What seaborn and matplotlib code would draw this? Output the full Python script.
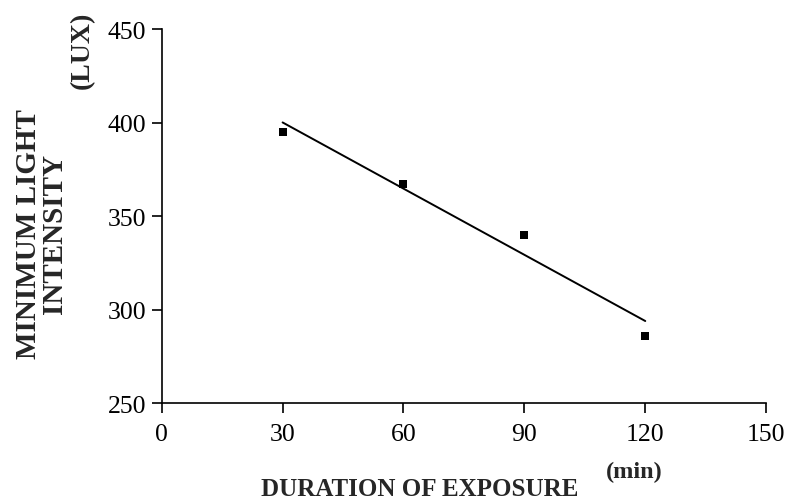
import numpy as np
import pandas as pd
import seaborn as sns
import matplotlib.pyplot as plt

# Data
duration_min = [30, 60, 90, 120]
light_lux = [395, 367, 340, 286]

x_ticks = [0, 30, 60, 90, 120, 150]
y_ticks = [250, 300, 350, 400, 450]

df = pd.DataFrame({"duration": duration_min, "lux": light_lux})

sns.set_style("ticks")
plt.rcParams['font.family'] = ['Liberation Serif', 'DejaVu Serif']

fig = plt.figure(figsize=(7.85, 5.02), dpi=100)
ax = fig.add_axes([0.206, 0.195, 0.770, 0.745])

sns.regplot(data=df, x="duration", y="lux", ax=ax, ci=None, color="black",
            marker="s", scatter_kws={"s": 40, "linewidths": 0, "alpha": 1},
            line_kws={"linewidth": 1.4, "alpha": 1})

ax.set_xlim(0, 150)
ax.set_ylim(250, 450)
ax.set_xticks(x_ticks)
ax.set_yticks(y_ticks)
ax.tick_params(axis="both", labelsize=18.5, length=7, width=1.2, color="black",
               labelcolor="black")
ax.tick_params(axis="x", pad=7)
ax.tick_params(axis="y", pad=4)
for s in ["left", "bottom"]:
    ax.spines[s].set_linewidth(1.2)
    ax.spines[s].set_color("black")
sns.despine(ax=ax)
ax.set_xlabel("")
ax.set_ylabel("")

fig.text(0.534, 0.024, "DURATION OF EXPOSURE", ha="center", va="center",
         fontsize=18, fontweight="bold")
fig.text(0.808, 0.058, "(min)", ha="center", va="center",
         fontsize=17.5, fontweight="bold")
fig.text(0.053, 0.534, "MINIMUM LIGHT\nINTENSITY", ha="center", va="center",
         rotation=90, fontsize=21, fontweight="bold", linespacing=0.92)
fig.text(0.105, 0.90, "(LUX)", ha="center", va="center",
         rotation=90, fontsize=20, fontweight="bold")

fig.savefig("out.png", dpi=100)
